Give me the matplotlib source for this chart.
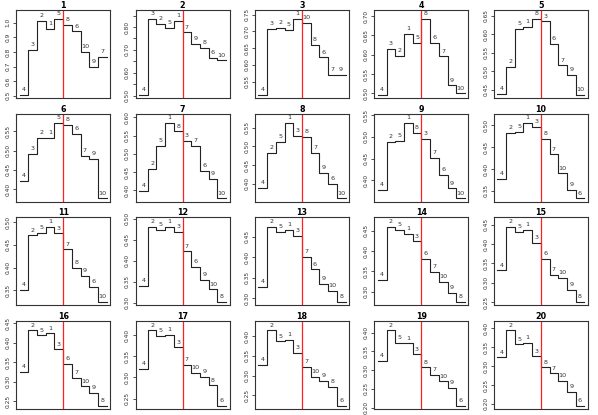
import numpy as np
import matplotlib
matplotlib.use("Agg")
import matplotlib.pyplot as plt

# Panel titles
panel_titles = [str(i) for i in range(1, 21)]

# Height of each step (left to right)
step_values = [
    [0.507, 0.813, 1.011, 0.956, 1.025, 0.988, 0.942, 0.802, 0.700, 0.765],
    [0.504, 0.834, 0.812, 0.796, 0.826, 0.776, 0.725, 0.707, 0.665, 0.654],
    [0.511, 0.708, 0.711, 0.704, 0.736, 0.724, 0.659, 0.622, 0.570, 0.569],
    [0.497, 0.615, 0.597, 0.654, 0.631, 0.692, 0.631, 0.596, 0.521, 0.500],
    [0.439, 0.511, 0.615, 0.620, 0.641, 0.635, 0.575, 0.516, 0.490, 0.437],
    [0.422, 0.492, 0.534, 0.533, 0.572, 0.567, 0.543, 0.487, 0.478, 0.376],
    [0.398, 0.459, 0.523, 0.585, 0.562, 0.536, 0.521, 0.454, 0.431, 0.378],
    [0.388, 0.482, 0.512, 0.563, 0.529, 0.526, 0.482, 0.430, 0.399, 0.361],
    [0.379, 0.488, 0.491, 0.532, 0.510, 0.495, 0.451, 0.413, 0.382, 0.359],
    [0.377, 0.483, 0.484, 0.505, 0.496, 0.469, 0.433, 0.390, 0.352, 0.333],
    [0.350, 0.471, 0.477, 0.490, 0.475, 0.440, 0.399, 0.382, 0.357, 0.324],
    [0.340, 0.481, 0.473, 0.481, 0.469, 0.422, 0.386, 0.355, 0.332, 0.302],
    [0.327, 0.475, 0.462, 0.467, 0.452, 0.400, 0.370, 0.334, 0.317, 0.290],
    [0.330, 0.460, 0.453, 0.443, 0.424, 0.380, 0.349, 0.325, 0.298, 0.275],
    [0.332, 0.445, 0.431, 0.436, 0.402, 0.361, 0.320, 0.313, 0.282, 0.250],
    [0.326, 0.432, 0.419, 0.424, 0.383, 0.346, 0.310, 0.288, 0.272, 0.238],
    [0.320, 0.411, 0.398, 0.401, 0.371, 0.329, 0.310, 0.302, 0.281, 0.233],
    [0.328, 0.415, 0.387, 0.391, 0.357, 0.321, 0.297, 0.286, 0.272, 0.223],
    [0.324, 0.406, 0.373, 0.371, 0.342, 0.307, 0.287, 0.270, 0.252, 0.205],
    [0.323, 0.395, 0.358, 0.362, 0.326, 0.297, 0.281, 0.261, 0.232, 0.195],
]

# Label written over each step
step_labels = [
    [4, 3, 2, 1, 5, 8, 6, 10, 9, 7],
    [4, 3, 2, 5, 1, 7, 9, 8, 6, 10],
    [4, 3, 2, 5, 1, 10, 8, 6, 7, 9],
    [4, 3, 2, 1, 5, 8, 6, 7, 9, 10],
    [4, 2, 5, 1, 8, 3, 6, 7, 9, 10],
    [4, 3, 2, 1, 5, 8, 6, 7, 9, 10],
    [4, 2, 5, 1, 8, 3, 7, 6, 9, 10],
    [4, 2, 5, 1, 3, 8, 7, 9, 6, 10],
    [4, 2, 5, 1, 8, 3, 7, 6, 9, 10],
    [4, 2, 5, 1, 3, 8, 7, 10, 9, 6],
    [4, 2, 5, 1, 3, 7, 8, 9, 6, 10],
    [4, 2, 5, 1, 3, 7, 6, 9, 10, 8],
    [4, 2, 5, 1, 3, 7, 6, 9, 10, 8],
    [4, 2, 5, 1, 3, 6, 7, 10, 9, 8],
    [4, 2, 5, 1, 3, 6, 7, 10, 9, 8],
    [4, 2, 5, 1, 3, 6, 7, 10, 9, 8],
    [4, 2, 5, 1, 3, 7, 10, 9, 8, 6],
    [4, 2, 5, 1, 3, 7, 10, 9, 8, 6],
    [4, 2, 5, 1, 3, 8, 7, 10, 9, 6],
    [4, 2, 5, 1, 3, 8, 7, 10, 9, 6],
]

line_col = "#222222"

fig, axes = plt.subplots(4, 5, figsize=(5.98, 4.15), dpi=100)
fig.subplots_adjust(left=0.027, right=0.983, top=0.976, bottom=0.0145,
                    wspace=0.27, hspace=0.18)

for k, ax in enumerate(axes.flat):
	vals = np.array(step_values[k])
	n = len(vals)
	x = np.arange(n + 1)
	ax.step(x, np.append(vals, vals[-1]), where="post", color=line_col, lw=0.8)
	ax.axvline(n / 2, color="#ff2020", lw=0.9)

	# labels over the middle of each step
	for i, lab in enumerate(step_labels[k]):
		ax.annotate(str(lab), (i + 0.5, vals[i]), xytext=(0, 3.8),
		            textcoords="offset points", ha="center", va="center",
		            fontsize=4.6, color="#333333")

	lo, hi = vals.min(), vals.max()
	r = hi - lo
	ax.set_ylim(lo - 0.043 * r, hi + 0.123 * r)
	ax.set_xlim(-0.4, n + 0.4)

	# y ticks, R style
	step = 0.1 if r > 0.5 else 0.05
	ylo, yhi = ax.get_ylim()
	ticks = np.arange(np.ceil(ylo / step - 1e-9) * step, yhi, step)
	fmt = "%.1f" if step == 0.1 else "%.2f"
	labels = [fmt % t for t in ticks]
	if len(ticks) > 7:
		labels = [l if round(t * 100) % 10 == 0 else "" for t, l in zip(ticks, labels)]
	ax.set_yticks(ticks)
	ax.set_yticklabels(labels, rotation=90, va="center", fontsize=4.2, color="#333333")
	ax.tick_params(axis="y", length=2.5, width=0.6, pad=1.5, color="#333333")
	ax.set_xticks([])

	for s in ax.spines.values():
		s.set_color("#333333")
		s.set_linewidth(0.8)
	ax.set_title(panel_titles[k], fontsize=5.8, fontweight="bold", pad=1.5)

fig.savefig("out.png", dpi=100)
